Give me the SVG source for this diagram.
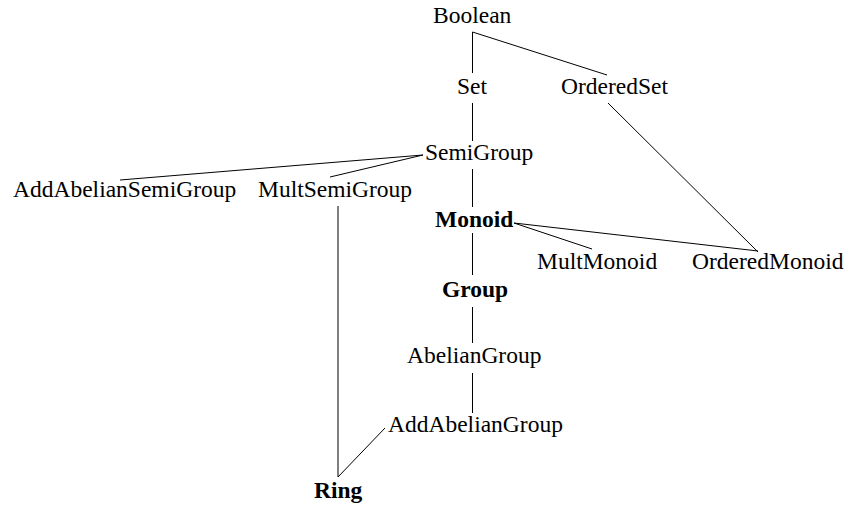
<svg xmlns="http://www.w3.org/2000/svg" width="848" height="506" viewBox="0 0 848 506">
<style>
#edges path{stroke:#000;stroke-width:1;fill:none}
</style>
<rect width="848" height="506" fill="#fff"/>
<g id="edges">
<path d="M472.5 32V73"/>
<path d="M472.5 32L607 75"/>
<path d="M472.5 103V141"/>
<path d="M608 103L758 252"/>
<path d="M423 155L120 180"/>
<path d="M423 155L330 177"/>
<path d="M472.5 169V207"/>
<path d="M514 223L592 249"/>
<path d="M514 223L758 251"/>
<path d="M472.5 233V275"/>
<path d="M472.5 307V343"/>
<path d="M472.5 373V413"/>
<path d="M338 206V477"/>
<path d="M385 428L338 477"/>
</g>
<g id="nodes" font-family="Liberation Serif" font-size="23.5" fill="#000">
<g id="Boolean"><text x="433" y="23">Boolean</text></g>
<g id="Set"><text x="457" y="94">Set</text></g>
<g id="OrderedSet"><text x="561" y="94">OrderedSet</text></g>
<g id="SemiGroup"><text x="425" y="160">SemiGroup</text></g>
<g id="AddAbelianSemiGroup"><text x="13" y="197">AddAbelianSemiGroup</text></g>
<g id="MultSemiGroup"><text x="258" y="197">MultSemiGroup</text></g>
<g id="Monoid"><text font-weight="bold" x="435" y="227">Monoid</text></g>
<g id="MultMonoid"><text x="537" y="269">MultMonoid</text></g>
<g id="OrderedMonoid"><text x="692" y="269">OrderedMonoid</text></g>
<g id="Group"><text font-weight="bold" x="442" y="297">Group</text></g>
<g id="AbelianGroup"><text x="407" y="363">AbelianGroup</text></g>
<g id="AddAbelianGroup"><text x="388" y="432">AddAbelianGroup</text></g>
<g id="Ring"><text font-weight="bold" x="314" y="498">Ring</text></g>
</g>
</svg>
